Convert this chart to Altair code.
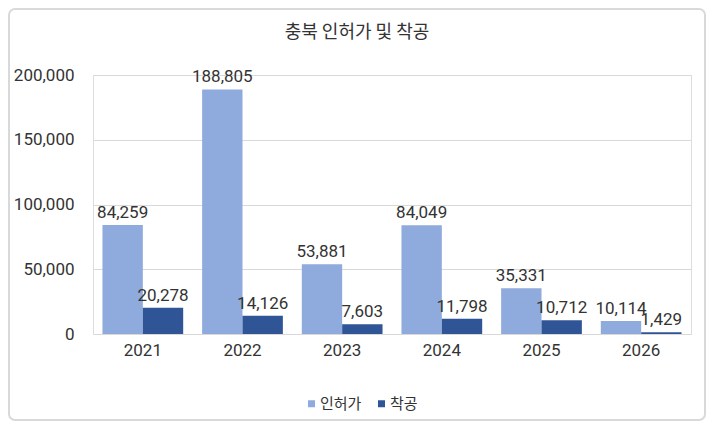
import altair as alt
import pandas as pd

years = ["2021", "2022", "2023", "2024", "2025", "2026"]
permits = [84259, 188805, 53881, 84049, 35331, 10114]
starts = [20278, 14126, 7603, 11798, 10712, 1429]
series = ["인허가", "착공"]
colors = ["#8FAADC", "#2F5597"]

rows = []
for y, p, s in zip(years, permits, starts):
    rows.append({"연도": y, "구분": series[0], "값": p})
    rows.append({"연도": y, "구분": series[1], "값": s})
df = pd.DataFrame(rows)

FONT = "Roboto, 'Noto Sans CJK KR', sans-serif"
KFONT = "'Noto Sans CJK KR', sans-serif"
TXT = "#333333"

W, H = 598, 259

x_enc = alt.X("연도:N", sort=years, title=None,
              scale=alt.Scale(paddingInner=0.19, paddingOuter=0.095),
              axis=alt.Axis(labelAngle=0, ticks=False, domainColor="#d9d9d9",
                            labelFont=FONT, labelFontSize=17, labelColor=TXT,
                            labelPadding=8))
xo_enc = alt.XOffset("구분:N", sort=series, scale=alt.Scale(paddingInner=0, paddingOuter=0))
y_enc = alt.Y("값:Q", title=None,
              scale=alt.Scale(domain=[0, 200000], nice=False),
              axis=alt.Axis(values=[0, 50000, 100000, 150000, 200000], format=",.0f",
                            ticks=False, domain=False, gridColor="#d9d9d9",
                            labelFont=FONT, labelFontSize=17, labelColor=TXT,
                            labelPadding=19))

base = alt.Chart(df)

bars = base.mark_bar().encode(
    x=x_enc, xOffset=xo_enc, y=y_enc,
    color=alt.Color("구분:N", sort=series,
                    scale=alt.Scale(domain=series, range=colors),
                    legend=alt.Legend(title=None, orient="none", direction="horizontal",
                                      legendX=211, legendY=321, symbolType="square",
                                      symbolSize=49, symbolStrokeWidth=0,
                                      labelFont=KFONT, labelFontSize=15, labelColor=TXT,
                                      labelOffset=1, columnPadding=12, padding=0)),
)

labels = base.mark_text(baseline="alphabetic", dy=-7, font=FONT, fontSize=17, color=TXT).encode(
    x=x_enc, xOffset=xo_enc, y=y_enc,
    text=alt.Text("값:Q", format=",.0f"),
)

border = alt.Chart(alt.Data(values=[{"b": 1}])).mark_rect(
    fill=None, stroke="#d9d9d9", strokeWidth=2, cornerRadius=6
).encode(
    x=alt.value(-84), x2=alt.value(W + 14), y=alt.value(-66), y2=alt.value(H + 86)
)

chart = alt.layer(border, bars, labels).properties(
    width=W, height=H,
    title=alt.TitleParams("충북 인허가 및 착공", font=KFONT, fontSize=18, fontWeight="normal",
                          color=TXT, anchor="middle", dx=-35, offset=-34),
    autosize=alt.AutoSizeParams(type="none"),
    padding={"left": 85, "top": 67, "right": 15, "bottom": 87},
).configure_view(stroke=None).configure(background="white")

chart.save("out.html", embed_options={"renderer": "svg", "actions": False})
